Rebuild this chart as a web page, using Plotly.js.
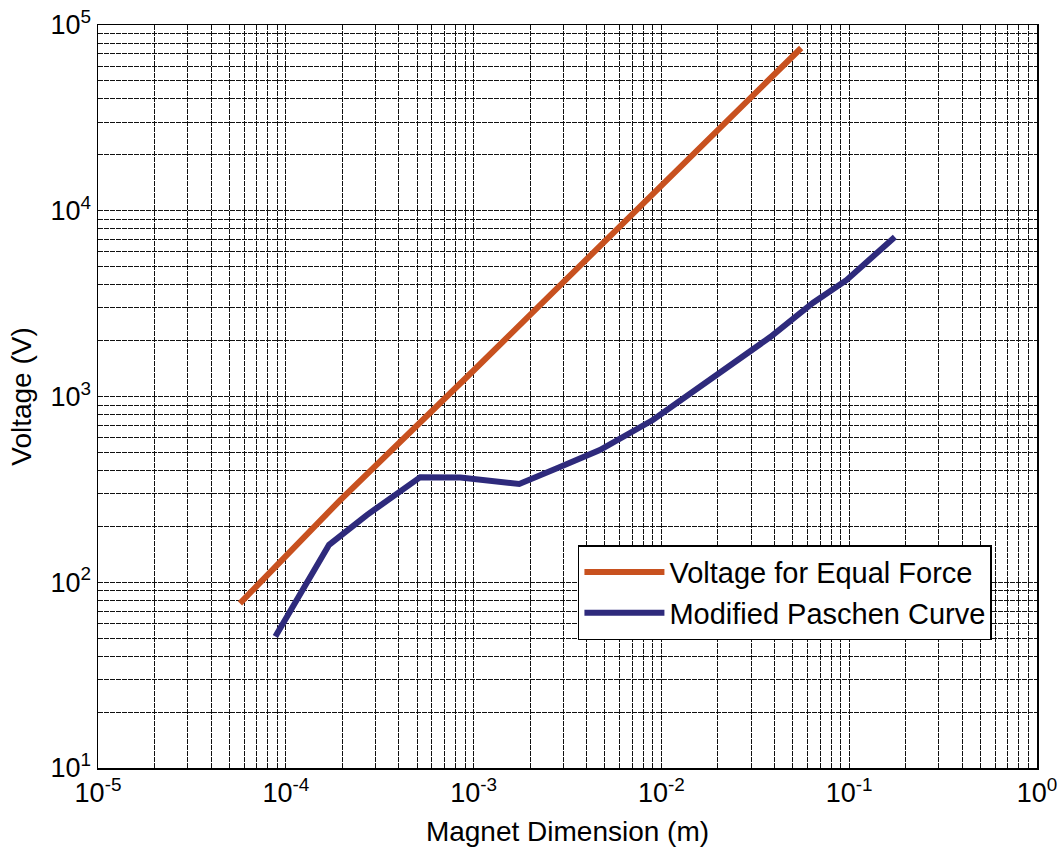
<!DOCTYPE html>
<html>
<head>
<meta charset="utf-8">
<script src="https://cdn.plot.ly/plotly-3.0.1.min.js"></script>
<style>html,body{margin:0;padding:0;background:#fff;}#chart{width:1061px;height:851px;}</style>
</head>
<body>
<div id="chart"></div>
<script>
// Series: Voltage for Equal Force
const equalForceX = [5.7e-5, 1.95e-4, 1e-3, 1e-2, 5.55e-2];
const equalForceY = [77, 277, 1380, 13600, 75200];

// Series: Modified Paschen Curve
const paschenX = [8.8e-5, 1.7e-4, 2.7e-4, 3.7e-4, 5.2e-4, 8.5e-4, 1.75e-3, 2.8e-3, 4.7e-3, 9.0e-3, 1.9e-2, 3.8e-2, 6.4e-2, 9.7e-2, 0.175];
const paschenY = [51, 159, 230, 288, 368, 366, 338, 412, 515, 747, 1274, 2090, 3190, 4240, 7230];

// Axis decades and tick labels
const xDecades = [-5, -4, -3, -2, -1, 0];
const yDecades = [1, 2, 3, 4, 5];
const seriesNames = ["Voltage for Equal Force", "Modified Paschen Curve"];

function buildTicks(decades) {
  const vals = [], text = [], minor = [];
  decades.forEach((d, i) => {
    vals.push(Math.pow(10, d));
    text.push("10<sup>" + d + "</sup>");
    if (i < decades.length - 1) {
      for (let m = 2; m <= 9; m++) minor.push(m * Math.pow(10, d));
    }
  });
  return {vals, text, minor};
}
const xt = buildTicks(xDecades);
const yt = buildTicks(yDecades);

const font = "Liberation Sans, Arial, sans-serif";
const gridStyle = {
  showgrid: true, gridcolor: "#111", gridwidth: 1, griddash: "5px,1px",
  showline: true, linecolor: "#000", linewidth: 1.5, mirror: true,
  zeroline: false, ticks: "", tickfont: {family: font, size: 27, color: "#000"}
};

const traces = [
  {x: equalForceX, y: equalForceY, mode: "lines", name: seriesNames[0],
   line: {color: "#c8511f", width: 6}},
  {x: paschenX, y: paschenY, mode: "lines", name: seriesNames[1],
   line: {color: "#2e2a7c", width: 6}}
];

const layout = {
  width: 1061, height: 851,
  margin: {l: 98, r: 24, t: 25, b: 83},
  paper_bgcolor: "#fff", plot_bgcolor: "#fff",
  font: {family: font, color: "#000"},
  xaxis: Object.assign({}, gridStyle, {
    type: "log", range: [-5, 0], tickmode: "array",
    tickvals: xt.vals, ticktext: xt.text,
    minor: {tickmode: "array", tickvals: xt.minor, showgrid: true, ticks: "",
            gridcolor: "#111", gridwidth: 1, griddash: "5px,1px"},
    title: {text: "Magnet Dimension (m)", font: {family: font, size: 28, color: "#000"}, standoff: 14},
    automargin: false
  }),
  yaxis: Object.assign({}, gridStyle, {
    type: "log", range: [1, 5], tickmode: "array",
    tickvals: yt.vals, ticktext: yt.text,
    minor: {tickmode: "array", tickvals: yt.minor, showgrid: true, ticks: "",
            gridcolor: "#111", gridwidth: 1, griddash: "5px,1px"},
    title: {text: "Voltage (V)", font: {family: font, size: 28, color: "#000"}, standoff: 10},
    automargin: false
  }),
  showlegend: true,
  legend: {
    x: 0.952, xanchor: "right", y: 0.172, yanchor: "bottom",
    bgcolor: "#fff", bordercolor: "#000", borderwidth: 1.5,
    font: {family: font, size: 29, color: "#000"},
    itemwidth: 80, tracegroupgap: 4
  }
};

Plotly.newPlot("chart", traces, layout, {staticPlot: true, displayModeBar: false});
</script>
</body>
</html>
